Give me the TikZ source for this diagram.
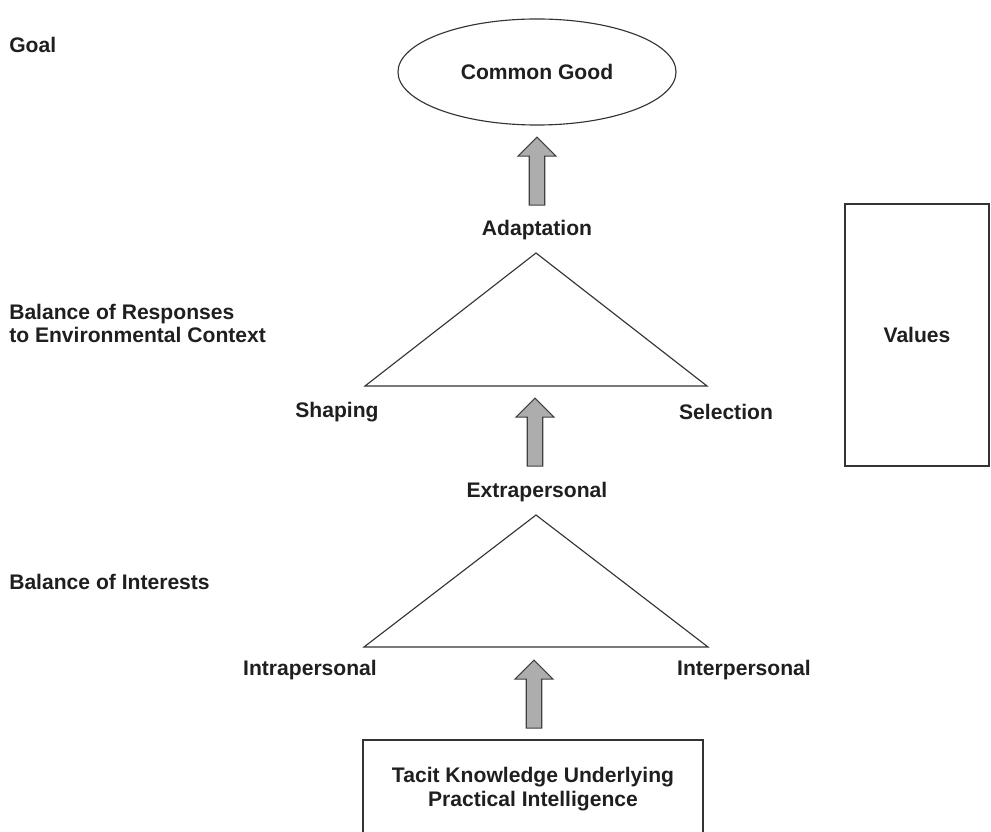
\documentclass[tikz,border=0pt]{standalone}
\usepackage{fontspec}
\setmainfont{Liberation Sans}
\usetikzlibrary{shapes.geometric,shapes.arrows}

\begin{document}
\begin{tikzpicture}[x=0.025cm,y=-0.025cm,inner sep=0mm,
  every node/.style={font=\fontsize{15}{16.8}\selectfont\bfseries,text=black!88},
  sidelabel/.style={anchor=west,align=left},
  upArrow/.style={single arrow,rotate=90,draw=black!75,fill=black!32,line width=0.8pt,
    inner xsep=0pt,inner ysep=0.18cm,minimum height=1.7cm,single arrow head extend=0.28cm},
  tri/.style={draw=black!80,line width=0.8pt,line join=miter}]
\useasboundingbox (0,0) rectangle (991,832);
%Side Labels
\node at (9,45) [sidelabel] (Goal) {Goal};
\node at (9,323.5) [sidelabel] (BalResp) {Balance of Responses\\to Environmental Context};
\node at (9,582) [sidelabel] (BalInt) {Balance of Interests};

%Boxes
\node at (537,72) [ellipse,draw=black!80,line width=0.8pt,minimum width=6.95cm,minimum height=2.65cm] (Common) {Common Good};
\node at (917,335) [rectangle,draw=black!80,line width=0.8pt,minimum width=3.6cm,minimum height=6.55cm] (Values) {Values};
\draw [black!80,line width=0.8pt] (363,880) |- (703,740) -- (703,880);
\node at (533,789) [align=center] (Tacit) {Tacit Knowledge Underlying\\Practical Intelligence};

%Triangle Corners
\coordinate (Apex1) at (536,253);
\coordinate (Left1) at (365,386);
\coordinate (Right1) at (707,386);
\coordinate (Apex2) at (536,515);
\coordinate (Left2) at (364,647);
\coordinate (Right2) at (708,647);
\draw [tri] (Apex1) -- (Right1) -- (Left1) -- cycle;
\draw [tri] (Apex2) -- (Right2) -- (Left2) -- cycle;

%Corner Labels
\node at (537,230) (Adapt) {Adaptation};
\node at (337,412) (Shaping) {Shaping};
\node at (726,412) (Selection) {Selection};
\node at (537,492) (Extra) {Extrapersonal};
\node at (310,670) (Intra) {Intrapersonal};
\node at (744,670) (Inter) {Interpersonal};

%Arrows
\node at (537,175) [upArrow] (Arrow1) {};
\node at (535,436) [upArrow] (Arrow2) {};
\node at (534,698) [upArrow] (Arrow3) {};
\end{tikzpicture}
\end{document}
